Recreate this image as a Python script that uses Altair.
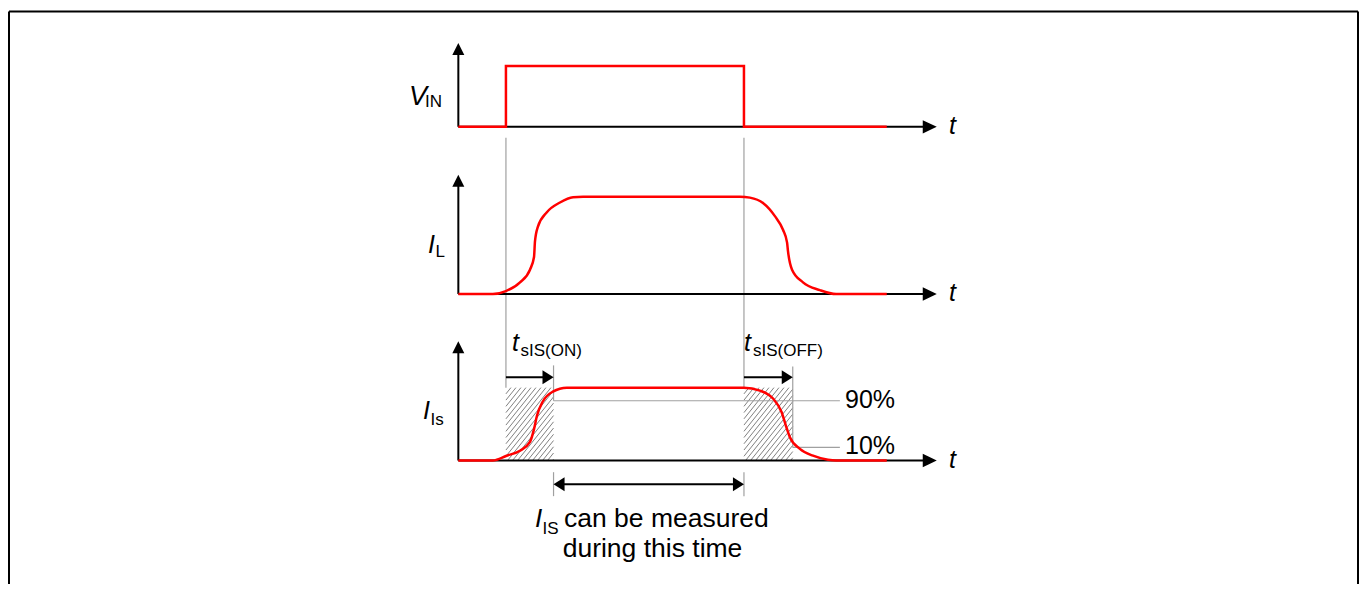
import altair as alt
import pandas as pd

# ---------------- data ----------------
# time axis in arbitrary units: input switched on at t=0, off at t=10
T_ON, T_OFF = 0.0, 10.0
T_SET_ON, T_SET_OFF = 2.0, 12.05      # end of t_sIS(ON) / t_sIS(OFF)
T_START, T_END = -2.0, 16.0           # start / end of the drawn signals
T_ARROW = 18.1                        # tip of the time axes
T_PCT_END = 14.03                     # end of the 90% / 10% marker lines

vin_t = [-2, 0, 0, 10, 10, 16]
vin_l = [0, 0, 1, 1, 0, 0]

il_t = [-2, -0.55, 0, 0.59, 1.01, 1.18, 1.22, 1.34, 1.72, 2.27, 2.82, 3.24,
        9.83, 10.25, 10.80, 11.30, 11.64, 11.81, 11.85, 12.02, 12.48, 13.19, 13.87, 16]
il_l = [0, 0, 0.03, 0.12, 0.25, 0.38, 0.54, 0.69, 0.84, 0.94, 0.995, 1,
        1, 0.99, 0.935, 0.80, 0.66, 0.53, 0.44, 0.25, 0.12, 0.04, 0, 0]

is_t = [-2, -0.55, 0.03, 0.59, 1.01, 1.18, 1.30, 1.55, 1.97, 2.56, 2.98,
        10, 10.67, 11.22, 11.58, 11.76, 11.93, 12.35, 12.90, 13.53, 13.87, 16]
is_l = [0, 0, 0.066, 0.135, 0.255, 0.43, 0.61, 0.81, 0.945, 1.0, 1.0,
        1, 0.96, 0.85, 0.665, 0.48, 0.32, 0.16, 0.066, 0.01, 0, 0]

PCT_HI, PCT_LO = 0.82, 0.18

# ---------------- layout ----------------
W, H = 1351, 576
T_MIN, T_MAX = -20.92, 35.84
PXT = W / (T_MAX - T_MIN)            # pixels per time unit
Y_MIN, Y_MAX = 8, 584                 # vertical layout units (top -> bottom)

# panel: (baseline, amplitude, axis height)
PANEL = {"VIN": (127.0, 61.0, 84.0), "IL": (294.5, 97.5, 119.5), "IS": (461.3, 73.0, 119.5)}

RED = "#ff0000"
GRAY = "#a0a0a0"
BLACK = "#000000"
FONT = "Liberation Sans"

xs = alt.Scale(domain=[T_MIN, T_MAX], nice=False, zero=False)
ys = alt.Scale(domain=[Y_MIN, Y_MAX], reverse=True, nice=False, zero=False)


def ypos(panel, level):
    b, a, _ = PANEL[panel]
    return b - level * a


# signals
sig_rows = []
for name, ts, ls in [("VIN", vin_t, vin_l), ("IL", il_t, il_l), ("IS", is_t, is_l)]:
    for i, (t, l) in enumerate(zip(ts, ls)):
        sig_rows.append({"sig": name, "i": i, "t": t, "y": ypos(name, l)})
sig = pd.DataFrame(sig_rows)

# gray helper lines
is_top = ypos("IS", 1.0)
y90 = ypos("IS", PCT_HI)
y10 = ypos("IS", PCT_LO)
gray = pd.DataFrame([
    (T_ON, 138, T_ON, is_top),
    (T_OFF, 138, T_OFF, is_top),
    (T_SET_ON, 366, T_SET_ON, y90),
    (T_SET_OFF, 367, T_SET_OFF, y10),
    (T_SET_ON, y90, T_PCT_END, y90),
    (T_SET_OFF, y10, T_PCT_END, y10),
    (T_SET_ON, 473, T_SET_ON, 497),
    (T_OFF, 473, T_OFF, 497),
], columns=["t1", "y1", "t2", "y2"])

# hatch lines in the two settling windows
hatch_rows = []
SPACING, SLOPE = 5.0, 1.25
ybot, ytop = PANEL["IS"][0], is_top
for ta, tb in [(T_ON, T_SET_ON), (T_OFF, T_SET_OFF)]:
    xa, xb = ta * PXT, tb * PXT
    hgt = ybot - ytop
    c = xa - hgt / SLOPE
    while c < xb:
        x0, y0 = c, ybot
        if x0 < xa:
            y0 = ybot - SLOPE * (xa - c)
            x0 = xa
        x1, y1 = c + hgt / SLOPE, ytop
        if x1 > xb:
            y1 = ybot - SLOPE * (xb - c)
            x1 = xb
        if y0 > y1:
            hatch_rows.append((x0 / PXT, y0, x1 / PXT, y1))
        c += SPACING
hatch = pd.DataFrame(hatch_rows, columns=["t1", "y1", "t2", "y2"])

# black axes and arrow shafts
blk_rows = []
for p, (b, a, h) in PANEL.items():
    blk_rows.append((T_START, b, T_START, b - h + 10))
    blk_rows.append((T_START, b, T_ARROW - 12 / PXT, b))
ARROW_Y = 378
blk_rows.append((T_ON, ARROW_Y, T_SET_ON - 8 / PXT, ARROW_Y))
blk_rows.append((T_OFF, ARROW_Y, T_SET_OFF - 8 / PXT, ARROW_Y))
blk_rows.append((T_SET_ON + 8 / PXT, 485, T_OFF - 8 / PXT, 485))
blk = pd.DataFrame(blk_rows, columns=["t1", "y1", "t2", "y2"])

# arrow heads
heads_up = pd.DataFrame([(T_START, b - h + 6) for p, (b, a, h) in PANEL.items()], columns=["t", "y"])
heads_right_axis = pd.DataFrame([(T_ARROW - 7 / PXT, b) for p, (b, a, h) in PANEL.items()], columns=["t", "y"])
heads_right_small = pd.DataFrame([(T_SET_ON - 5.5 / PXT, ARROW_Y), (T_SET_OFF - 5.5 / PXT, ARROW_Y),
                                  (T_OFF - 5.5 / PXT, 485)], columns=["t", "y"])
heads_left_small = pd.DataFrame([(T_SET_ON + 5.5 / PXT, 485)], columns=["t", "y"])


def rules(df, color, width):
    return alt.Chart(df).mark_rule(color=color, strokeWidth=width).encode(
        x=alt.X("t1:Q", scale=xs, axis=None), x2="t2:Q",
        y=alt.Y("y1:Q", scale=ys, axis=None), y2="y2:Q")


def heads(df, shape, size):
    return alt.Chart(df).mark_point(shape=shape, size=size, filled=True, color=BLACK, opacity=1,
                                    strokeWidth=0).encode(
        x=alt.X("t:Q", scale=xs, axis=None), y=alt.Y("y:Q", scale=ys, axis=None))


def label(text, t, y, size=24, italic=False, align="left", color=BLACK):
    kw = dict(text=text, align=align, baseline="alphabetic", fontSize=size, font=FONT, color=color)
    if italic:
        kw["fontStyle"] = "italic"
    return alt.Chart(pd.DataFrame({"a": [0]})).mark_text(**kw).encode(
        x=alt.datum(t, scale=xs, axis=None), y=alt.datum(y, scale=ys, axis=None))


def tpx(px):
    return (px - 8) / PXT + T_MIN


frame = pd.DataFrame([(1, 3.5, 1350, 3.5), (1, 3.5, 1, 576), (1350, 3.5, 1350, 576)],
                     columns=["x1", "y1", "x2", "y2"])
frame_layer = alt.Chart(frame).mark_rule(color=BLACK, strokeWidth=2).encode(
    x=alt.X("x1:Q", scale=None, axis=None), x2="x2:Q",
    y=alt.Y("y1:Q", scale=None, axis=None), y2="y2:Q")

vin_line = alt.Chart(sig[sig.sig == "VIN"]).mark_line(color=RED, strokeWidth=2.5, interpolate="linear").encode(
    x=alt.X("t:Q", scale=xs, axis=None), y=alt.Y("y:Q", scale=ys, axis=None), order="i:Q")
curve_lines = alt.Chart(sig[sig.sig != "VIN"]).mark_line(color=RED, strokeWidth=2.5, interpolate="monotone").encode(
    x=alt.X("t:Q", scale=xs, axis=None), y=alt.Y("y:Q", scale=ys, axis=None),
    detail="sig:N", order="i:Q")

UP = "M0,-1L1,1L-1,1Z"
RIGHT = "M1,0L-1,-0.95L-1,0.95Z"
RIGHT_S = "M0.79,0L-0.79,-1L-0.79,1Z"
LEFT_S = "M-0.79,0L0.79,-1L0.79,1Z"

texts = [
    label("V", tpx(409), 105, 27, italic=True),
    label("IN", tpx(425), 107, 17),
    label("I", tpx(428), 253, 25, italic=True),
    label("L", tpx(435.5), 257, 17),
    label("I", tpx(423), 420, 25, italic=True),
    label("Is", tpx(430.5), 426, 17),
]
for p, (b, a, h) in PANEL.items():
    texts.append(label("t", tpx(949), b + 7, 25, italic=True))
texts += [
    label("t", tpx(512), 352, 25, italic=True),
    label("sIS(ON)", tpx(520.5), 357, 17),
    label("t", tpx(744), 352, 25, italic=True),
    label("sIS(OFF)", tpx(753), 357, 17),
    label("90%", tpx(845), 409, 25),
    label("10%", tpx(845), 455, 25),
    label("I", tpx(535), 528, 26, italic=True),
    label("IS", tpx(542.5), 535, 17),
    label("can be measured", tpx(564), 528, 26.5),
    label("during this time", tpx(652.5), 558, 26.5, align="center"),
]

chart = alt.layer(
    frame_layer,
    rules(hatch, "#555555", 0.75),
    rules(gray, GRAY, 1.2),
    rules(blk, BLACK, 2),
    heads(heads_up, UP, 144),
    heads(heads_right_axis, RIGHT, 196),
    heads(heads_right_small, RIGHT_S, 196),
    heads(heads_left_small, LEFT_S, 196),
    vin_line,
    curve_lines,
    *texts,
).properties(
    width=W, height=H, padding=0,
    autosize=alt.AutoSizeParams(type="fit", contains="padding"),
).configure_view(stroke=None)

chart.save("out.html", embed_options={"renderer": "svg", "actions": False})
